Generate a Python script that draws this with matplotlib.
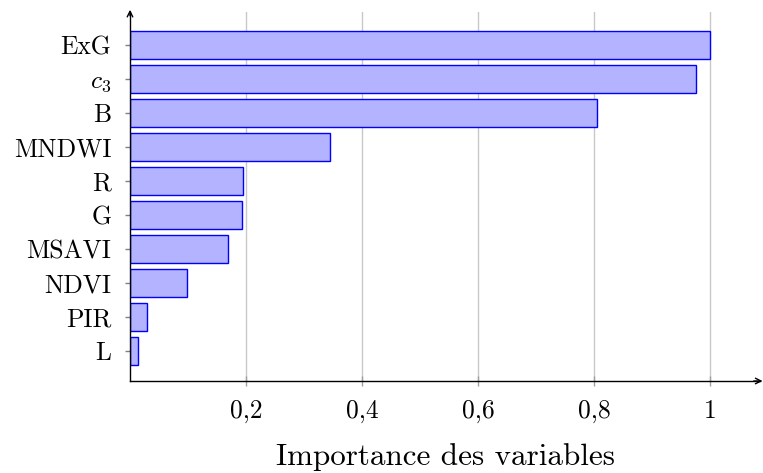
import matplotlib
matplotlib.use("Agg")
import matplotlib.pyplot as plt

plt.rcParams['font.family'] = ['cmr10', 'DejaVu Serif']
plt.rcParams['mathtext.fontset'] = 'cm'
plt.rcParams['axes.formatter.use_mathtext'] = True

categories = ["L", "PIR", "NDVI", "MSAVI", "G", "R", "MNDWI", "B", "$c_3$", "ExG"]
values = [0.014, 0.029, 0.098, 0.169, 0.193, 0.195, 0.345, 0.805, 0.975, 1.0]
xticks = [0.2, 0.4, 0.6, 0.8, 1.0]
xticklabels = ["0,2", "0,4", "0,6", "0,8", "1"]
xlabel = "Importance des variables"

W, H = 763, 473
fig = plt.figure(figsize=(W / 100, H / 100), dpi=100)
left, right, top, bottom = 130, 760, 12, 381
ax = fig.add_axes([left / W, 1 - bottom / H, (right - left) / W, (bottom - top) / H])

pos = list(range(len(categories)))
ax.barh(pos, values, height=0.8, color=(0.7, 0.7, 1.0), edgecolor=(0, 0, 1), linewidth=1.0, zorder=3)

ax.set_xlim(0, 1.086)
ax.set_ylim(-0.88, 9.97)
ax.set_yticks(pos)
ax.set_yticklabels(categories, fontsize=18.4)
ax.set_xticks(xticks)
ax.set_xticklabels(xticklabels, fontsize=18.4)
ax.set_xlabel(xlabel, fontsize=22.4, labelpad=14)

ax.grid(axis='x', color='#c8c8c8', linewidth=1.0, zorder=0)
ax.tick_params(axis='y', direction='inout', length=7, width=1, color='#808080', pad=10)
ax.tick_params(axis='x', direction='inout', length=7, width=1, color='#a0a0a0', pad=10)

for s in ['top', 'right']:
    ax.spines[s].set_visible(False)
for s in ['left', 'bottom']:
    ax.spines[s].set_linewidth(1.0)
    ax.spines[s].set_zorder(4)

ax.annotate('', xy=(1.004, 0), xytext=(0.99, 0), xycoords='axes fraction',
            arrowprops=dict(arrowstyle='->', lw=1.0, color='black', shrinkA=0, shrinkB=0), annotation_clip=False)
ax.annotate('', xy=(0, 1.006), xytext=(0, 0.99), xycoords='axes fraction',
            arrowprops=dict(arrowstyle='->', lw=1.0, color='black', shrinkA=0, shrinkB=0), annotation_clip=False)

fig.savefig("out.png", dpi=100)
